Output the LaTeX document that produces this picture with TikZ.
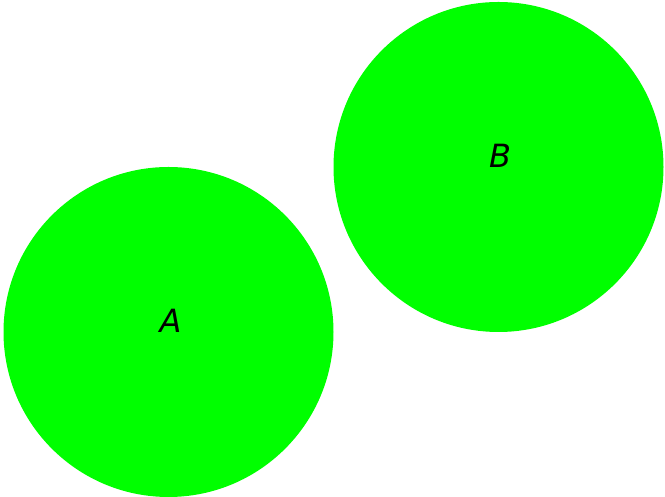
\documentclass[tikz,border=0pt]{standalone}
\usepackage{fontspec}
\setmainfont{DejaVu Sans}
\begin{document}
\begin{tikzpicture}[x=1pt,y=1pt,
  blob/.style={circle,fill={rgb,255:red,0;green,255;blue,0},minimum size=330pt,inner sep=0pt},
  lbl/.style={font=\fontsize{32}{32}\selectfont\itshape,inner sep=0pt}]
\useasboundingbox (0,0) rectangle (665,497);
\node[blob] (a) at (168.5,165) {};
\node[blob] (b) at (498.5,330) {};
\node[lbl] (la) at (170.5,176) {A};
\node[lbl] (lb) at (500,341) {B};
\end{tikzpicture}
\end{document}
